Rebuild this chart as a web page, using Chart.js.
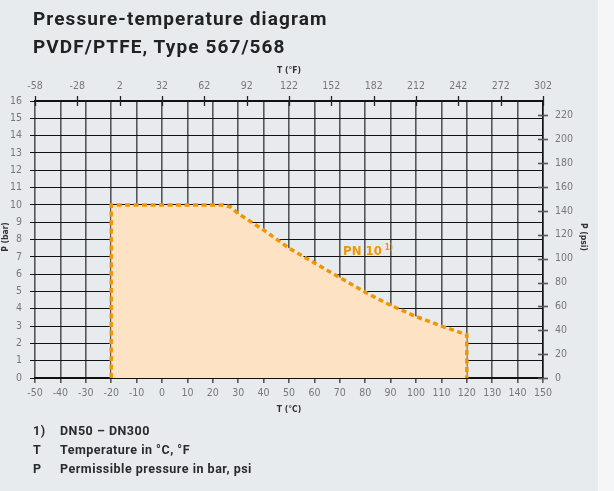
<!DOCTYPE html>
<html>
<head>
<meta charset="utf-8">
<script src="https://cdn.jsdelivr.net/npm/chart.js@4.4.1/dist/chart.umd.min.js"></script>
<style>
  html, body { margin: 0; padding: 0; background: #f5f6f7; }
  #page { position: relative; width: 598px; height: 491px; background: #e8ebee; overflow: visible; }
  #chart { position: absolute; left: 0; top: 0; }
  .title { position: absolute; left: 33px; font: 700 19px Roboto, sans-serif; color: #222; letter-spacing: 1.1px; }
  .note { position: absolute; font: 700 12.5px Roboto, sans-serif; color: #2a2a2a; letter-spacing: 0.5px; }
</style>
</head>
<body>
<div id="page">
  <canvas id="chart" width="614" height="491"></canvas>
  <div class="title" style="top:7px">Pressure-temperature diagram</div>
  <div class="title" style="top:35px">PVDF/PTFE, Type 567/568</div>
  <div class="note" style="left:33px;top:423px">1)</div>
  <div class="note" style="left:60px;top:423px">DN50 – DN300</div>
  <div class="note" style="left:33px;top:442px">T</div>
  <div class="note" style="left:60px;top:442px">Temperature in °C, °F</div>
  <div class="note" style="left:33px;top:461px">P</div>
  <div class="note" style="left:60px;top:461px">Permissible pressure in bar, psi</div>
</div>
<script>
// PN 10 curve, T in °C, P in bar
var tempC = [-20, -20, 24, 27, 30, 40, 50, 60, 70, 80, 90, 100, 110, 120, 120];
var pressBar = [0, 10, 10, 9.88, 9.5, 8.55, 7.5, 6.65, 5.8, 4.95, 4.2, 3.55, 3.0, 2.5, 0];
var fahrenheitTicks = [-58, -28, 2, 32, 62, 92, 122, 152, 182, 212, 242, 272, 302];
var psiTicks = [0, 20, 40, 60, 80, 100, 120, 140, 160, 180, 200, 220];
var seriesLabel = "PN 10";

var orange = "rgb(240,150,0)";
var tickFont = { family: "'Liberation Sans Narrow', 'DejaVu Sans Condensed', sans-serif", size: 10.5 };
var points = tempC.map(function(t, i) { return { x: t, y: pressBar[i] }; });

var extras = {
  id: "extras",
  afterDraw: function(chart) {
    var ctx = chart.ctx, a = chart.chartArea;
    var xF = chart.scales.xF, yP = chart.scales.yPsi;
    ctx.save();
    // crossing ticks on the °F axis
    ctx.strokeStyle = "#222";
    ctx.lineWidth = 1.3;
    fahrenheitTicks.forEach(function(v) {
      var px = Math.round(xF.getPixelForValue(v)) + 0.5;
      ctx.beginPath(); ctx.moveTo(px, a.top - 5); ctx.lineTo(px, a.top + 5); ctx.stroke();
    });
    // crossing ticks on the psi axis
    ctx.strokeStyle = "#555";
    ctx.lineWidth = 1.6;
    psiTicks.forEach(function(v) {
      var py = Math.round(yP.getPixelForValue(v)) + 0.5;
      ctx.beginPath(); ctx.moveTo(a.right - 5, py); ctx.lineTo(a.right + 5, py); ctx.stroke();
    });
    // axis titles
    ctx.fillStyle = "#333";
    ctx.font = "700 8.5px 'DejaVu Sans Condensed', sans-serif";
    ctx.textAlign = "center";
    ctx.textBaseline = "middle";
    var cx = (a.left + a.right) / 2;
    ctx.fillText("T (°F)", cx, 71);
    ctx.fillText("T (°C)", cx, 410);
    ctx.save(); ctx.translate(6, 237); ctx.rotate(-Math.PI / 2); ctx.fillText("P (bar)", 0, 0); ctx.restore();
    ctx.save(); ctx.translate(583, 237); ctx.rotate(Math.PI / 2); ctx.fillText("P (psi)", 0, 0); ctx.restore();
    // series label
    var lx = chart.scales.x.getPixelForValue(71.3), ly = chart.scales.y.getPixelForValue(7.3);
    ctx.fillStyle = orange;
    ctx.textAlign = "left";
    ctx.textBaseline = "middle";
    ctx.font = "700 13px 'Liberation Sans Narrow', 'DejaVu Sans Condensed', sans-serif";
    ctx.fillText(seriesLabel, lx, ly);
    var w = ctx.measureText(seriesLabel).width;
    ctx.font = "700 8px 'Liberation Sans Narrow', 'DejaVu Sans Condensed', sans-serif";
    ctx.fillText("1)", lx + w + 3, ly - 4);
    ctx.restore();
  }
};

new Chart(document.getElementById("chart"), {
  type: "line",
  data: {
    datasets: [{
      label: seriesLabel,
      data: points,
      borderColor: orange,
      borderWidth: 3.5,
      borderDash: [5, 3.5],
      backgroundColor: "rgb(253,227,196)",
      fill: "origin",
      pointRadius: 0,
      tension: 0
    }]
  },
  options: {
    responsive: false,
    animation: false,
    layout: { padding: { top: 60, bottom: 71, left: 0, right: 0 } },
    plugins: { legend: { display: false }, tooltip: { enabled: false } },
    scales: {
      x: {
        type: "linear", position: "bottom", min: -50, max: 150,
        ticks: { stepSize: 10, color: "#777", font: tickFont, padding: 4, maxRotation: 0 },
        grid: { color: "rgba(50,50,50,0.8)", lineWidth: 1.6, tickLength: 5 },
        border: { color: "#111", width: 1.5 },
        afterFit: function(s) { s.height = 42; }
      },
      xF: {
        type: "linear", position: "top", min: -58, max: 302,
        afterBuildTicks: function(s) { s.ticks = fahrenheitTicks.map(function(v) { return { value: v }; }); },
        ticks: { color: "#777", font: tickFont, padding: 0, maxRotation: 0, autoSkip: false },
        grid: { display: false },
        border: { color: "#111", width: 1.5 },
        afterFit: function(s) { s.height = 41; }
      },
      y: {
        type: "linear", position: "left", min: 0, max: 16,
        ticks: { stepSize: 1, color: "#777", font: tickFont, padding: 8 },
        grid: { color: "#111", lineWidth: 1, tickLength: 5 },
        border: { display: false },
        afterFit: function(s) { s.width = 35; }
      },
      yPsi: {
        type: "linear", position: "right", min: 0, max: 16 * 14.5038,
        afterBuildTicks: function(s) { s.ticks = psiTicks.map(function(v) { return { value: v }; }); },
        ticks: { color: "#777", font: tickFont, padding: 4, autoSkip: false },
        grid: { display: false },
        border: { color: "#111", width: 1.5 },
        afterFit: function(s) { s.width = 71; }
      }
    }
  },
  plugins: [extras]
});
</script>
</body>
</html>
